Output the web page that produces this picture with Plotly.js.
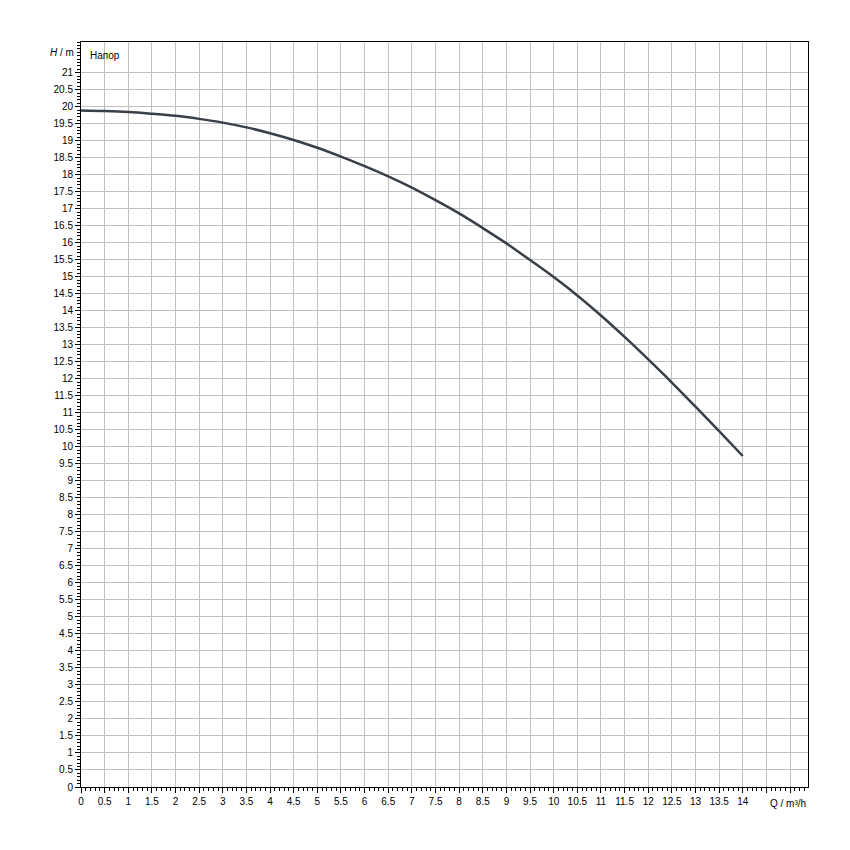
<!DOCTYPE html>
<html>
<head>
<meta charset="utf-8">
<script src="https://cdn.plot.ly/plotly-3.0.1.min.js"></script>
<style>
  html, body { margin: 0; padding: 0; background: #ffffff; }
  #chart { width: 850px; height: 850px; }
</style>
</head>
<body>
<div id="chart"></div>
<script>
// Flow Q (m³/h) and head H (m)
const flowQ = [0, 0.5, 1, 1.5, 2, 2.5, 3, 3.5, 4, 4.5, 5, 5.5, 6, 6.5, 7, 7.5, 8, 8.5, 9, 9.5, 10, 10.5, 11, 11.5, 12, 12.5, 13, 13.5, 14];
const headH = [19.89, 19.87, 19.84, 19.79, 19.73, 19.64, 19.53, 19.39, 19.22, 19.02, 18.79, 18.53, 18.25, 17.95, 17.62, 17.25, 16.86, 16.43, 15.98, 15.49, 14.99, 14.45, 13.86, 13.23, 12.57, 11.89, 11.18, 10.46, 9.73];

// Axis tick values / labels
const xTickVals = [];
const xTickText = [];
for (let i = 0; i <= 30; i++) {
  const v = i / 2;
  xTickVals.push(v);
  xTickText.push(v <= 14 ? String(v) : '');
}
const yTickVals = [];
const yTickText = [];
for (let i = 0; i <= 42; i++) {
  const v = i / 2;
  yTickVals.push(v);
  yTickText.push(String(v));
}

const fontFam = 'Liberation Sans, Arial, sans-serif';

const trace = {
  x: flowQ,
  y: headH,
  type: 'scatter',
  mode: 'lines',
  line: { color: '#383f47', width: 2.5, shape: 'spline', smoothing: 1 },
  hoverinfo: 'skip',
  showlegend: false
};

const layout = {
  width: 850,
  height: 850,
  paper_bgcolor: '#ffffff',
  plot_bgcolor: '#ffffff',
  margin: { l: 81, r: 42, t: 42, b: 63 },
  font: { family: fontFam, size: 10, color: '#000000' },
  xaxis: {
    range: [0, 15.38],
    tickmode: 'array',
    tickvals: xTickVals,
    ticktext: xTickText,
    ticks: 'outside',
    ticklen: 5,
    tickcolor: '#000000',
    tickwidth: 1,
    showgrid: true,
    gridcolor: '#c0c0c0',
    gridwidth: 1,
    zeroline: false,
    showline: true,
    linecolor: '#000000',
    linewidth: 1,
    mirror: true,
    tickfont: { family: fontFam, size: 10, color: '#000000' },
    minor: { dtick: 0.1, tick0: 0, ticks: 'outside', ticklen: 3, tickcolor: '#000000', showgrid: false }
  },
  yaxis: {
    range: [0, 21.9],
    tickmode: 'array',
    tickvals: yTickVals,
    ticktext: yTickText,
    ticks: 'outside',
    ticklen: 5,
    tickcolor: '#000000',
    tickwidth: 1,
    showgrid: true,
    gridcolor: '#c0c0c0',
    gridwidth: 1,
    zeroline: false,
    showline: true,
    linecolor: '#000000',
    linewidth: 1,
    mirror: true,
    tickfont: { family: fontFam, size: 10, color: '#000000' },
    minor: { dtick: 0.1, tick0: 0, ticks: 'outside', ticklen: 3, tickcolor: '#000000', showgrid: false }
  },
  annotations: [
    {
      text: '<i>H</i> / m',
      xref: 'paper', yref: 'paper',
      x: -0.007, y: 21.6 / 21.9,
      xanchor: 'right', yanchor: 'middle',
      showarrow: false,
      font: { family: fontFam, size: 10, color: '#000000' }
    },
    {
      text: 'Напор',
      xref: 'paper', yref: 'paper',
      x: 0.009, y: 21.5 / 21.9,
      xanchor: 'left', yanchor: 'middle',
      showarrow: false,
      font: { family: fontFam, size: 10, color: '#000000' }
    },
    {
      text: 'Q / m³/h',
      xref: 'paper', yref: 'paper',
      x: 1.0, y: 0,
      xanchor: 'right', yanchor: 'top',
      yshift: -9,
      showarrow: false,
      font: { family: fontFam, size: 10, color: '#000000' }
    }
  ]
};

Plotly.newPlot('chart', [trace], layout, { staticPlot: true, displayModeBar: false });
</script>
</body>
</html>
